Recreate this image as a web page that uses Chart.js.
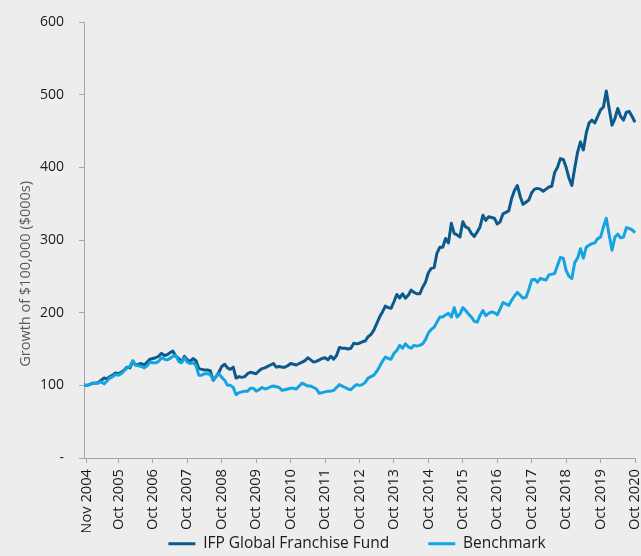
<!DOCTYPE html>
<html>
<head>
<meta charset="utf-8">
<script src="https://cdn.jsdelivr.net/npm/chart.js@4"></script>
<style>
    html, body { margin: 0; padding: 0; background: #ededed; }
    #wrap { width: 641px; height: 556px; position: relative; }
</style>
</head>
<body>
<div id="wrap"><canvas id="growth-chart"></canvas></div>
<script>
// monthly values, Oct 2004 .. Oct 2020 (one row per year from Nov)
const fundValues = [100,
    100, 101, 103, 103, 104, 107, 110, 109, 112, 114, 117, 116,
    118, 121, 125, 124, 133, 128, 129, 130, 128, 132, 136, 137,
    138, 140, 144, 141, 142, 145, 147, 140, 137, 132, 140, 135,
    133, 137, 134, 123, 122, 121, 121, 120, 107, 112, 118, 126,
    129, 124, 122, 125, 110, 112, 111, 112, 116, 118, 117, 116,
    120, 123, 124, 126, 128, 130, 125, 126, 125, 125, 127, 130,
    129, 128, 130, 132, 134, 138, 135, 132, 133, 135, 137, 138,
    135, 140, 136, 141, 152, 151, 151, 150, 151, 158, 157, 158,
    160, 161, 167, 170, 176, 185, 194, 201, 209, 207, 206, 215,
    225, 220, 226, 220, 224, 231, 228, 226, 226, 235, 242, 255,
    261, 262, 282, 290, 290, 302, 296, 323, 309, 307, 304, 325,
    318, 316, 309, 305, 311, 318, 334, 327, 332, 331, 330, 322,
    325, 336, 338, 340, 357, 368, 375, 360, 349, 352, 355, 365,
    370, 371, 370, 367, 370, 373, 374, 393, 400, 412, 411, 400,
    385, 375, 399, 421, 435, 424, 447, 461, 465, 461, 470, 479,
    483, 505, 481, 458, 467, 481, 470, 465, 476, 477, 470, 462
];

const benchmarkValues = [100,
    100, 101, 103, 103, 103, 105, 102, 106, 110, 112, 115, 114,
    116, 120, 124, 126, 134, 128, 127, 126, 124, 127, 132, 131,
    131, 133, 138, 136, 135, 137, 140, 141, 133, 131, 138, 132,
    130, 131, 128, 114, 114, 116, 116, 115, 108, 112, 116, 111,
    107, 100, 100, 97, 87, 90, 91, 92, 92, 96, 96, 92,
    94, 97, 95, 96, 98, 99, 98, 97, 93, 94, 95, 96,
    96, 95, 99, 103, 101, 99, 99, 97, 95, 89, 90, 91,
    92, 92, 93, 97, 101, 99, 97, 95, 94, 98, 101, 100,
    101, 104, 110, 112, 114, 119, 126, 133, 139, 137, 136, 144,
    148, 155, 151, 157, 153, 151, 155, 154, 155, 157, 163, 172,
    177, 180, 187, 194, 194, 197, 199, 194, 207, 194, 198, 207,
    203, 198, 194, 188, 187, 196, 203, 196, 199, 201, 200, 197,
    205, 214, 212, 210, 217, 223, 228, 224, 220, 221, 232, 245,
    246, 242, 247, 246, 245, 252, 253, 254, 265, 276, 275, 258,
    250, 247, 269, 275, 288, 275, 290, 293, 295, 296, 302, 304,
    318, 330, 307, 286, 304, 308, 303, 304, 317, 316, 314, 310
];

const tickLabels = [
    "Nov 2004", "Oct 2005", "Oct 2006", "Oct 2007", "Oct 2008", "Oct 2009",
    "Oct 2010", "Oct 2011", "Oct 2012", "Oct 2013", "Oct 2014", "Oct 2015",
    "Oct 2016", "Oct 2017", "Oct 2018", "Oct 2019", "Oct 2020"
];

const seriesNames = ["IFP Global Franchise Fund", "Benchmark"];
const yTitle = "Growth of $100,000 ($000s)";

const monthNames = ["Jan", "Feb", "Mar", "Apr", "May", "Jun", "Jul", "Aug", "Sep", "Oct", "Nov", "Dec"];
const months = fundValues.map((_, k) => {
    const m = 9 + k;
    return `${monthNames[m % 12]} ${2004 + Math.floor(m / 12)}`;
});

const axisGrey = "#a6a6a6";
const textColor = "#1a1a1a";

Chart.defaults.font.family = "'Open Sans', sans-serif";
Chart.defaults.font.size = 14;
Chart.defaults.color = textColor;

// move the legend right and up a bit (legend clips to its own box, so only grow it upwards)
const legendNudge = {
    id: "legendNudge",
    afterLayout(chart) {
        const lg = chart.legend;
        lg.left += 31; lg.right += 31;
        lg.top -= 35;
    }
};

const ctx = document.getElementById("growth-chart").getContext("2d");
new Chart(ctx, {
    type: "line",
    data: {
        labels: months,
        datasets: [
            {
                label: seriesNames[0],
                data: fundValues,
                borderColor: "#0c5a8c",
                backgroundColor: "#0c5a8c",
                borderWidth: 3,
                pointRadius: 0,
                borderJoinStyle: "round",
                order: 1
            },
            {
                label: seriesNames[1],
                data: benchmarkValues,
                borderColor: "#14a4e2",
                backgroundColor: "#14a4e2",
                borderWidth: 3,
                pointRadius: 0,
                borderJoinStyle: "round",
                order: 0
            }
        ]
    },
    options: {
        responsive: true,
        maintainAspectRatio: false,
        animation: false,
        layout: { padding: { left: 17, right: 6, top: 22, bottom: 0 } },
        plugins: {
            tooltip: { enabled: false },
            legend: {
                position: "bottom",
                maxHeight: 24,
                labels: {
                    boxWidth: 27,
                    boxHeight: 3,
                    padding: 39,
                    font: { size: 15.5 },
                    sort: (a, b) => a.datasetIndex - b.datasetIndex,
                    generateLabels: (chart) => Chart.defaults.plugins.legend.labels
                        .generateLabels(chart)
                        .map((item) => ({ ...item, fillStyle: item.strokeStyle, lineWidth: 0 }))
                }
            }
        },
        scales: {
            x: {
                offset: false,
                grid: { drawOnChartArea: false, tickLength: 5, color: axisGrey },
                border: { color: axisGrey },
                ticks: { autoSkip: false, minRotation: 90, maxRotation: 90, padding: 6, font: { size: 14.7 } },
                afterBuildTicks: (s) => {
                    s.ticks = s.ticks.filter((t) => tickLabels.includes(months[t.value]));
                },
                afterFit: (s) => { s.height = 74; s.paddingRight = 0; }
            },
            y: {
                min: 0,
                max: 600,
                grid: { drawOnChartArea: false, tickLength: 5, color: axisGrey },
                border: { color: axisGrey },
                ticks: {
                    stepSize: 100,
                    padding: 15,
                    callback: (v) => (v === 0 ? "-" : v)
                },
                title: {
                    display: true,
                    text: yTitle + "\u00a0".repeat(18),
                    color: "#595959",
                    font: { size: 14.5 },
                    padding: { top: 0, bottom: 0 }
                },
                afterFit: (s) => { s.width = 67; s.paddingTop = 0; s.paddingBottom = 0; }
            }
        }
    },
    plugins: [legendNudge]
});
</script>
</body>
</html>
